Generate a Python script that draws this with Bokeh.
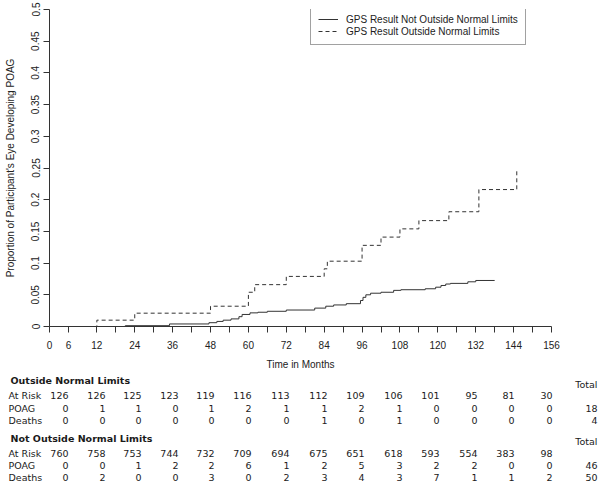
from bokeh.plotting import figure
from bokeh.models import Range1d, FixedTicker, NumeralTickFormatter, Legend, LegendItem
from bokeh.core.properties import value
from bokeh.embed import file_html
from bokeh.resources import INLINE

# ---------------- data ----------------
outside_months = [0, 12, 24, 48, 60, 62, 72, 84, 85, 96, 102, 108, 114, 123.5, 133, 145]
outside_prop = [0, 0.010, 0.021, 0.032, 0.054, 0.066, 0.079, 0.091, 0.103, 0.128,
                0.141, 0.154, 0.167, 0.181, 0.216, 0.249]

not_outside_months = [0, 21, 35, 47.5, 50, 52, 54.5, 57, 58, 60.5, 63, 66, 72, 81, 84.5,
                      87, 91, 95.5, 96.3, 97.2, 98.7, 102, 106, 108.3, 116, 119.3, 121,
                      122.5, 124, 129.5, 132, 138]
not_outside_prop = [0, 0.0013, 0.004, 0.006, 0.008, 0.010, 0.012, 0.0155, 0.019, 0.0215,
                    0.0225, 0.024, 0.026, 0.029, 0.032, 0.034, 0.036, 0.041, 0.046, 0.050,
                    0.0525, 0.054, 0.057, 0.058, 0.0595, 0.062, 0.0647, 0.067, 0.068,
                    0.0705, 0.0726, 0.0726]

series_labels = ["GPS Result Not Outside Normal Limits", "GPS Result Outside Normal Limits"]

x_tick_values = [-3, 3, 12, 18, 24, 30, 36, 42, 48, 54, 60, 66, 72, 78, 84, 90, 96, 102,
                 108, 114, 120, 126, 132, 138, 144, 150, 156]
x_tick_labels = ["0", "6", "12", "", "24", "", "36", "", "48", "", "60", "", "72", "",
                 "84", "", "96", "", "108", "", "120", "", "132", "", "144", "", "156"]
y_tick_values = [0, 0.05, 0.1, 0.15, 0.2, 0.25, 0.3, 0.35, 0.4, 0.45, 0.5]

row_names = ["At Risk", "POAG", "Deaths"]
group_names = ["Outside Normal Limits", "Not Outside Normal Limits"]

outside_at_risk = [126, 126, 125, 123, 119, 116, 113, 112, 109, 106, 101, 95, 81, 30]
outside_poag = [0, 1, 1, 0, 1, 2, 1, 1, 2, 1, 0, 0, 0, 0]
outside_deaths = [0, 0, 0, 0, 0, 0, 0, 1, 0, 1, 0, 0, 0, 0]
outside_totals = ["", "18", "4"]

not_at_risk = [760, 758, 753, 744, 732, 709, 694, 675, 651, 618, 593, 554, 383, 98]
not_poag = [0, 0, 1, 2, 2, 6, 1, 2, 5, 3, 2, 2, 0, 0]
not_deaths = [0, 2, 0, 0, 3, 0, 2, 3, 4, 3, 7, 1, 1, 2]
not_totals = ["", "46", "50"]

# ---------------- styles / layout ----------------
FONT = "Liberation Sans"
TFONT = value("DejaVu Sans")
INK = "#333333"

p = figure(width=600, height=372, x_range=Range1d(-3, 156), y_range=Range1d(0, 0.5),
           output_backend="svg", toolbar_location=None,
           min_border_left=49, min_border_right=49, min_border_top=9, min_border_bottom=46)
p.xgrid.visible = False
p.ygrid.visible = False
p.outline_line_color = None

r_solid = p.step(not_outside_months, not_outside_prop, mode="after",
                 line_color=INK, line_width=1)
r_dash = p.step(outside_months, outside_prop, mode="after",
                line_color=INK, line_width=1, line_dash="4 3")

xa = p.xaxis[0]
xa.ticker = FixedTicker(ticks=x_tick_values)
xa.major_label_overrides = dict(zip(x_tick_values, x_tick_labels))
xa.axis_label = "Time in Months"
ya = p.yaxis[0]
ya.ticker = FixedTicker(ticks=y_tick_values)
ya.formatter = NumeralTickFormatter(format="0.[00]")
ya.axis_label = "Proportion of Participant's Eye Developing POAG"
ya.major_label_orientation = "vertical"

for ax in (xa, ya):
    ax.axis_line_color = INK
    ax.major_tick_line_color = INK
    ax.major_tick_out = 6
    ax.major_tick_in = 0
    ax.minor_tick_out = 0
    ax.minor_tick_in = 0
    ax.major_label_text_font = FONT
    ax.major_label_text_font_size = "10px"
    ax.major_label_text_color = "#222222"
    ax.axis_label_text_font = FONT
    ax.axis_label_text_font_size = "10px"
    ax.axis_label_text_font_style = "normal"
    ax.axis_label_text_color = "#222222"
xa.major_label_standoff = 8
xa.axis_label_standoff = 7
ya.major_label_standoff = 4
ya.axis_label_standoff = 13

legend = Legend(items=[LegendItem(label=series_labels[0], renderers=[r_solid]),
                       LegendItem(label=series_labels[1], renderers=[r_dash])],
                location=(261, 281), margin=0, padding=7, spacing=0,
                glyph_width=20, glyph_height=12, label_height=12, label_standoff=8,
                label_text_font=FONT, label_text_font_size="10px",
                label_text_color="#222222", border_line_color="#444444",
                border_line_width=1, background_fill_color="white")
p.add_layout(legend, "center")

# ---------------- risk table ----------------
t = figure(width=600, height=111, x_range=Range1d(0, 600), y_range=Range1d(111, 0),
           output_backend="svg", toolbar_location=None,
           x_axis_location=None, y_axis_location=None,
           min_border_left=0, min_border_right=0, min_border_top=0, min_border_bottom=0)
t.xgrid.visible = False
t.ygrid.visible = False
t.outline_line_color = None

col_right = [68, 105, 141, 178, 214, 251, 289, 327, 364, 402, 439, 477, 514, 552]
total_right = 597
label_x = 8
header_x = 10
blocks = [
    (group_names[0], [outside_at_risk, outside_poag, outside_deaths], outside_totals,
     8, 12.3, [23.3, 35.7, 48]),
    (group_names[1], [not_at_risk, not_poag, not_deaths], not_totals,
     66, 69, [81, 93.3, 105.3]),
]
common = dict(text_font=TFONT, text_font_size="9.5px", text_color="#1a1a1a",
              text_baseline="middle")
for name, rows, totals, hy, ty, rys in blocks:
    t.text(x=[header_x], y=[hy], text=[name], text_align="left",
           text_font_style="bold", **common)
    t.text(x=[total_right], y=[ty], text=["Total"], text_align="right", **common)
    for rname, vals, tot, ry in zip(row_names, rows, totals, rys):
        t.text(x=[label_x], y=[ry], text=[rname], text_align="left", **common)
        t.text(x=col_right[:len(vals)], y=[ry] * len(vals), text=[str(v) for v in vals],
               text_align="right", **common)
        if tot:
            t.text(x=[total_right], y=[ry], text=[tot], text_align="right", **common)

open("out.html", "w").write(file_html([p, t], INLINE))
